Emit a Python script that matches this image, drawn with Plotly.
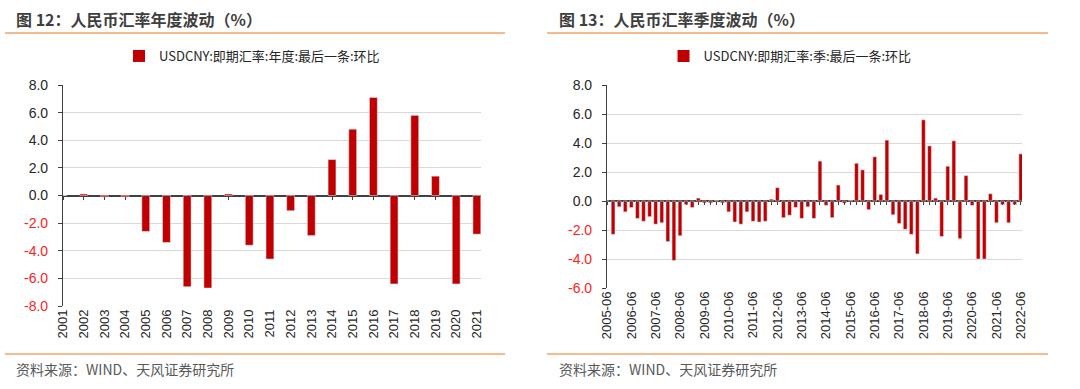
import plotly.graph_objects as go

# ---------------- data ----------------
years = ["2001", "2002", "2003", "2004", "2005", "2006", "2007", "2008", "2009", "2010",
         "2011", "2012", "2013", "2014", "2015", "2016", "2017", "2018", "2019", "2020", "2021"]
annual_values = [0.0, 0.1, -0.1, -0.1, -2.6, -3.4, -6.6, -6.7, 0.1, -3.6,
                 -4.6, -1.1, -2.9, 2.6, 4.8, 7.1, -6.4, 5.8, 1.4, -6.4, -2.8]

quarters = [
    "2005-06", "2005-09", "2005-12", "2006-03",
    "2006-06", "2006-09", "2006-12", "2007-03",
    "2007-06", "2007-09", "2007-12", "2008-03",
    "2008-06", "2008-09", "2008-12", "2009-03",
    "2009-06", "2009-09", "2009-12", "2010-03",
    "2010-06", "2010-09", "2010-12", "2011-03",
    "2011-06", "2011-09", "2011-12", "2012-03",
    "2012-06", "2012-09", "2012-12", "2013-03",
    "2013-06", "2013-09", "2013-12", "2014-03",
    "2014-06", "2014-09", "2014-12", "2015-03",
    "2015-06", "2015-09", "2015-12", "2016-03",
    "2016-06", "2016-09", "2016-12", "2017-03",
    "2017-06", "2017-09", "2017-12", "2018-03",
    "2018-06", "2018-09", "2018-12", "2019-03",
    "2019-06", "2019-09", "2019-12", "2020-03",
    "2020-06", "2020-09", "2020-12", "2021-03",
    "2021-06", "2021-09", "2021-12", "2022-03",
    "2022-06",
]
quarter_values = [
    0.0, -2.3, -0.4, -0.75,
    -0.45, -1.2, -1.4, -1.08,
    -1.6, -1.5, -2.8, -4.1,
    -2.4, -0.25, -0.45, 0.2,
    -0.1, -0.1, 0.05, -0.1,
    -0.75, -1.45, -1.6, -0.75,
    -1.4, -1.45, -1.4, 0.1,
    0.92, -1.15, -0.98, -0.44,
    -1.2, -0.4, -1.2, 2.75,
    -0.3, -1.15, 1.1, -0.15,
    0.05, 2.6, 2.15, -0.6,
    3.05, 0.45, 4.2, -0.95,
    -1.55, -1.95, -2.3, -3.65,
    5.6, 3.8, 0.2, -2.45,
    2.4, 4.15, -2.6, 1.75,
    -0.3, -4.0, -4.0, 0.5,
    -1.5, -0.25, -1.5, -0.25,
    3.25,
]

quarter_ticks = ["2005-06", "2006-06", "2007-06", "2008-06", "2009-06", "2010-06",
                 "2011-06", "2012-06", "2013-06", "2014-06", "2015-06", "2016-06",
                 "2017-06", "2018-06", "2019-06", "2020-06", "2021-06", "2022-06"]

left_yticks = [8, 6, 4, 2, 0, -2, -4, -6, -8]
right_yticks = [8, 6, 4, 2, 0, -2, -4, -6]

titles = ["图 12：人民币汇率年度波动（%）", "图 13：人民币汇率季度波动（%）"]
series_names = ["USDCNY:即期汇率:年度:最后一条:环比", "USDCNY:即期汇率:季:最后一条:环比"]
source_text = "资料来源：WIND、天风证券研究所"

# ---------------- style ----------------
W, H = 1080, 389
BAR = "#C00000"
ORANGE = "#F2A66A"
AXIS = "#404040"
FONT = "Liberation Sans, Arial, Noto Sans CJK SC, sans-serif"
CJK = "Noto Sans CJK SC, Liberation Sans, sans-serif"

# pixel layout of the two panels
L_X = (63, 481)
R_X = (607, 1022)
L_Y = (85, 306)    # top (8.0) / bottom (-8.0)
R_Y = (85, 288)    # top (8.0) / bottom (-6.0)


def py(v):
    return 1 - v / H


def px(v):
    return v / W


def tick_text(vals):
    out = []
    for v in vals:
        s = f"{v:.1f}"
        if v < 0:
            out.append(f'<span style="color:#FF2020">{s}</span>')
        else:
            out.append(s)
    return out


fig = go.Figure()
fig.add_trace(go.Bar(x=years, y=annual_values, xaxis="x", yaxis="y",
                     marker=dict(color=BAR, line=dict(width=0)), width=0.38,
                     name=series_names[0], legend="legend"))
fig.add_trace(go.Bar(x=quarters, y=quarter_values, xaxis="x2", yaxis="y2",
                     marker=dict(color=BAR, line=dict(width=0)), width=0.62,
                     name=series_names[1], legend="legend2"))
# invisible helper traces so that the zero-line tick axes are drawn
fig.add_trace(go.Bar(x=years, y=annual_values, xaxis="x3", yaxis="y",
                     marker=dict(color="rgba(0,0,0,0)"), width=0.38,
                     showlegend=False, hoverinfo="skip"))
fig.add_trace(go.Bar(x=quarters, y=quarter_values, xaxis="x4", yaxis="y2",
                     marker=dict(color="rgba(0,0,0,0)"), width=0.62,
                     showlegend=False, hoverinfo="skip"))

common_y = dict(gridcolor="#D9D9D9", gridwidth=1, showline=True, linecolor=AXIS,
                linewidth=1.2, ticks="outside", ticklen=4, tickcolor=AXIS,
                ticklabelstandoff=7,
                zeroline=True, zerolinecolor=AXIS, zerolinewidth=1.5,
                tickfont=dict(family=FONT, size=14, color="#262626"), tickmode="array")
common_x = dict(type="category", showgrid=False, showline=False, zeroline=False,
                ticks="", tickangle=-90, tickmode="array",
                tickfont=dict(family=FONT, size=13, color="#262626"))
zero_x = dict(type="category", showgrid=False, showline=False, zeroline=False,
              ticks="outside", ticklen=3, tickwidth=1.2, tickcolor=AXIS,
              showticklabels=False, anchor="free")

# pixel y of the zero line in each panel
l_zero = L_Y[0] + (L_Y[1] - L_Y[0]) * 8 / 16
r_zero = R_Y[0] + (R_Y[1] - R_Y[0]) * 8 / 14

fig.update_layout(
    width=W, height=H, margin=dict(l=0, r=0, t=0, b=0, autoexpand=False),
    paper_bgcolor="white", plot_bgcolor="white", barmode="overlay",
    xaxis=dict(domain=[px(L_X[0]), px(L_X[1])], anchor="y", range=[0, 20.2],
               tickvals=years, **common_x),
    yaxis=dict(domain=[py(L_Y[1]), py(L_Y[0])], anchor="x", range=[-8, 8],
               tickvals=left_yticks, ticktext=tick_text(left_yticks), **common_y),
    xaxis2=dict(domain=[px(R_X[0]), px(R_X[1])], anchor="y2", range=[0, 68.2],
                tickvals=quarter_ticks, **common_x),
    yaxis2=dict(domain=[py(R_Y[1]), py(R_Y[0])], anchor="x2", range=[-6, 8],
                tickvals=right_yticks, ticktext=tick_text(right_yticks), **common_y),
    xaxis3=dict(domain=[px(L_X[0]), px(L_X[1])], range=[0, 20.2], overlaying="x",
                position=py(l_zero), tickvals=years, **zero_x),
    xaxis4=dict(domain=[px(R_X[0]), px(R_X[1])], range=[0, 68.2], overlaying="x2",
                position=py(r_zero), tickvals=quarters, **zero_x),
    legend=dict(x=px(252), y=py(56), xanchor="center", yanchor="middle",
                orientation="h", font=dict(family=CJK, size=13, color="#262626"),
                bgcolor="rgba(0,0,0,0)", itemwidth=30),
    legend2=dict(x=px(790), y=py(56), xanchor="center", yanchor="middle",
                 orientation="h", font=dict(family=CJK, size=13, color="#262626"),
                 bgcolor="rgba(0,0,0,0)", itemwidth=30),
    showlegend=True,
)

shapes = []
for x0, x1 in [(5, 505), (547, 1048)]:
    for yy in (33, 354):
        shapes.append(dict(type="line", xref="paper", yref="paper",
                           x0=px(x0), x1=px(x1), y0=py(yy), y1=py(yy),
                           line=dict(color=ORANGE, width=1.5)))
fig.update_layout(shapes=shapes)

annotations = []
for i, x0 in enumerate([14, 557]):
    annotations.append(dict(text=f"<b>{titles[i]}</b>", x=px(x0), y=py(19),
                            xref="paper", yref="paper", xanchor="left", yanchor="middle",
                            showarrow=False,
                            font=dict(family=CJK, size=16, color="#3F3F3F")))
    annotations.append(dict(text=source_text, x=px(x0), y=py(369),
                            xref="paper", yref="paper", xanchor="left", yanchor="middle",
                            showarrow=False,
                            font=dict(family=CJK, size=14, color="#595959")))
fig.update_layout(annotations=annotations)

fig.write_html("out.html", config={"displayModeBar": False},
               post_script="document.body.style.margin='0';")
